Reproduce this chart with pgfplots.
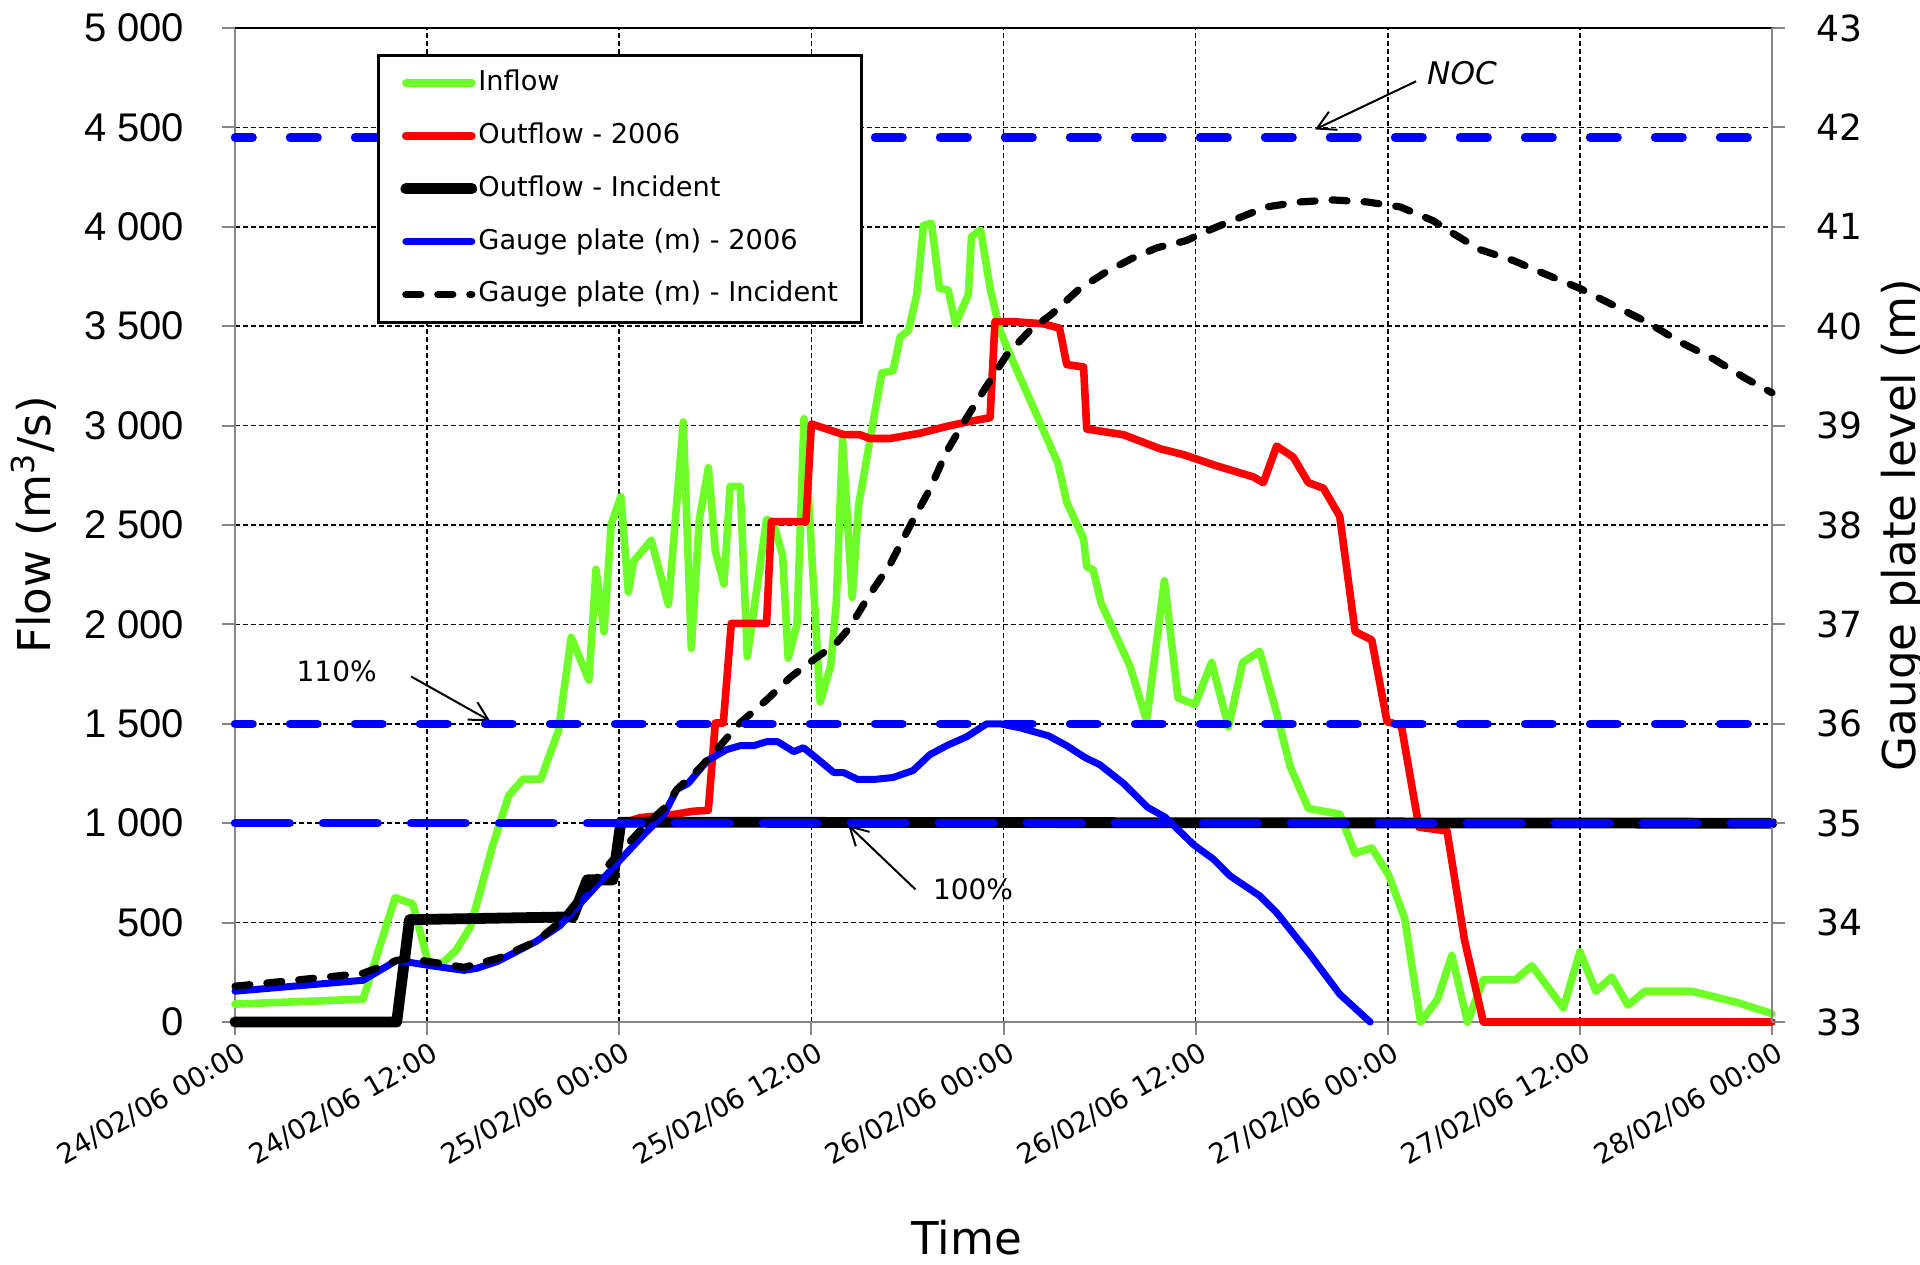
\documentclass[border=0pt]{standalone}
\usepackage{pgfplots}
\pgfplotsset{compat=1.18}
\usepackage{fontspec}
\setmainfont{DejaVu Sans}
\newfontfamily\arialf{Liberation Sans}
\usetikzlibrary{arrows.meta}

\definecolor{ingreen}{RGB}{110,255,40}
\definecolor{axgray}{RGB}{134,134,134}

\tikzset{
 sInflow/.style={color=ingreen, line width=1.9pt, line cap=round, line join=round},
 sOut06/.style={color=red, line width=1.9pt, line cap=round, line join=round},
 sOutInc/.style={color=black, line width=2.7pt, line cap=round, line join=round},
 sG06/.style={color=blue, line width=1.75pt, line cap=round, line join=round},
 sGInc/.style={color=black, line width=1.8pt, line cap=round, line join=round, dash pattern=on 3.75pt off 4.25pt},
 sRefA/.style={color=blue, line width=2.1pt, line cap=round, dash pattern=on 6.9pt off 9.35pt, dash phase=2.5pt},
 sRefB/.style={color=blue, line width=2.1pt, line cap=round, dash pattern=on 13.65pt off 8.35pt},
 annarrow/.style={black, line width=0.5pt, -{Straight Barb[length=4.5pt, width=5pt]}},
}

\begin{document}
\begin{tikzpicture}
\begin{axis}[
 scale only axis, width=384.25pt, height=248.5pt,
 xmin=0, xmax=96, ymin=0, ymax=5000,
 clip=false,
 axis line style={draw=axgray, line width=0.5pt},
 tick style={draw=axgray, line width=0.5pt},
 major tick length=3.25pt,
 tick align=outside,
 xtick pos=lower, ytick pos=left,
 xtick={0,12,24,36,48,60,72,84,96},
 xticklabels={24/02/06 00:00, 24/02/06 12:00, 25/02/06 00:00, 25/02/06 12:00, 26/02/06 00:00, 26/02/06 12:00, 27/02/06 00:00, 27/02/06 12:00, 28/02/06 00:00},
 ytick={0,500,1000,1500,2000,2500,3000,3500,4000,4500,5000},
 yticklabels={0,500,1~000,1~500,2~000,2~500,3~000,3~500,4~000,4~500,5~000},
 xticklabel style={font=\fontsize{6.9}{8}\selectfont, rotate=30, anchor=north east, inner sep=0pt, yshift=-1.5pt},
 yticklabel style={font=\arialf\fontsize{10}{12}\selectfont, anchor=east, inner sep=0pt, xshift=-9.25pt},
 grid=major,
 major grid style={black, line width=0.4pt, dash pattern=on 1.2pt off 0.8pt},
 xlabel={Time}, ylabel={Flow (m\textsuperscript{3}/s)},
 label style={font=\fontsize{11.3}{13}\selectfont},
 xlabel style={at={(axis description cs:0,0)}, anchor=center, xshift=183pt, yshift=-54pt},
 ylabel style={at={([xshift=-56.25pt]axis description cs:0,0.5)}, anchor=north, inner sep=0pt},
]
\coordinate (bbsw) at (rel axis cs:0,0);
\coordinate (bbne) at (rel axis cs:1,1);
\draw[black, line width=0.5pt] (rel axis cs:0,1) -- (rel axis cs:1,1);

% Inflow
\addplot[sInflow] coordinates {
(0,90) (8.0,115) (10.0,625) (11.1,595) (12.1,290) (13.0,300) (13.8,360) (14.7,478) (16.1,889) (17.1,1140) (18.0,1222) (19.1,1222) (20.2,1465) (21.0,1935) (22.1,1720) (22.55,2277) (23.05,1963) (23.5,2506) (24.1,2642) (24.57,2162) (24.9,2318) (26.0,2423) (27.07,2099) (28.0,3018) (28.5,1880) (29.0,2527) (29.57,2788) (30.0,2370) (30.54,2203) (30.92,2694) (31.55,2694) (32.0,1838) (33.2,2527) (33.6,2517) (34.2,2350) (34.55,1830) (35.1,2000) (35.54,3035) (36.55,1610) (37.2,1790) (37.55,2100) (37.95,2930) (38.55,2135) (38.95,2600) (39.66,2928) (40.4,3265) (41.1,3276) (41.54,3445) (42.06,3478) (42.58,3658) (43.0,4006) (43.5,4018) (44.0,3692) (44.55,3681) (45.0,3512) (45.8,3658) (46.0,3950) (46.57,3984) (47.16,3692) (47.78,3478) (48.6,3321) (49.9,3085) (51.4,2810) (51.95,2614) (53.0,2431) (53.2,2289) (53.6,2275) (54.1,2106) (55.9,1790) (56.94,1515) (58.05,2220) (58.9,1630) (59.96,1597) (61.0,1809) (62.05,1484) (62.94,1809) (64.0,1865) (65.06,1555) (65.9,1286) (67.04,1074) (69.0,1046) (69.96,848) (71.0,876) (72.05,740) (73.05,523) (74.05,0) (75.1,113) (76.0,335) (76.98,0) (77.97,212) (79.96,212) (81.0,283) (82.97,71) (84.0,353) (85.0,155) (85.99,226) (87.0,85) (88.07,155) (90.98,155) (93.8,99) (96.0,42)
};
% Outflow 2006
\addplot[sOut06] coordinates {
(24.2,1000) (25.3,1028) (27.4,1044) (28.6,1060) (29.56,1065) (30.0,1504) (30.5,1504) (31.0,2005) (33.2,2005) (33.5,2517) (35.66,2517) (36.0,3008) (36.5,2995) (37.99,2955) (39.0,2955) (39.66,2935) (40.9,2935) (42.8,2962) (44.4,2995) (45.7,3018) (47.16,3040) (47.47,3523) (48.6,3523) (50.5,3512) (51.5,3490) (51.95,3307) (53.0,3295) (53.2,2983) (55.5,2954) (57.8,2883) (59.2,2855) (61.3,2798) (63.6,2742) (64.23,2713) (65.06,2897) (66.1,2841) (67.04,2713) (67.98,2685) (69.0,2544) (69.96,1964) (71.0,1922) (71.95,1512) (72.85,1490) (73.95,980) (75.7,961) (76.8,410) (77.97,0) (96,0)
};
% Outflow incident
\addplot[sOutInc] coordinates {
(0,0) (10.1,0) (10.9,515) (20.4,528) (21.1,528) (22.0,715) (23.6,715) (24.1,1005) (96,1000)
};

\draw[annarrow] (axis cs:73.77,4732) -- (axis cs:67.46,4490);
\node[font=\itshape\fontsize{7.8}{9}\selectfont] at (axis cs:76.64,4774) {NOC};
\draw[annarrow] (axis cs:11.0,1738) -- (axis cs:15.93,1515);
\node[font=\fontsize{7}{8}\selectfont] at (axis cs:6.35,1766) {110\%};
\draw[annarrow] (axis cs:42.5,667) -- (axis cs:38.3,990);
\node[font=\fontsize{7}{8}\selectfont] at (axis cs:46.1,667) {100\%};
\end{axis}

\begin{axis}[
 scale only axis, width=384.25pt, height=248.5pt,
 xmin=0, xmax=96, ymin=33, ymax=43,
 clip=false,
 axis x line=none,
 axis y line*=right,
 axis line style={draw=axgray, line width=0.5pt, -},
 tick style={draw=axgray, line width=0.5pt},
 major tick length=3.25pt, tick align=outside,
 ytick={33,34,35,36,37,38,39,40,41,42,43},
 yticklabels={33,34,35,36,37,38,39,40,41,42,43},
 yticklabel style={font=\fontsize{9}{11}\selectfont, anchor=west, inner sep=0pt, xshift=7.75pt},
 ylabel={Gauge plate level (m)},
 ylabel style={font=\fontsize{11.3}{13}\selectfont, at={([xshift=27pt]axis description cs:1,0.5)}, anchor=north, inner sep=0pt},
 legend style={at={(axis description cs:0.0924,0.9738)}, anchor=north west, draw=black, line width=0.7pt, fill=white,
   font=\fontsize{6.8}{8}\selectfont, inner xsep=5.5pt, inner ysep=2.5pt, row sep=4.3pt,
   nodes={inner xsep=0.3pt, inner ysep=1pt, text height=5.3pt, text depth=1.6pt}},
 legend cell align=left,
 legend image code/.code={\draw[#1] (0pt,0pt) -- (16.5pt,0pt);},
]
\addlegendimage{sInflow}
\addlegendentry{Inflow}
\addlegendimage{sOut06}
\addlegendentry{Outflow - 2006}
\addlegendimage{sOutInc}
\addlegendentry{Outflow - Incident}
\addplot[sG06] coordinates {
(0,33.31) (8.0,33.42) (10.1,33.62) (10.9,33.60) (12.5,33.56) (14.3,33.52) (15.1,33.54) (16.4,33.61) (18.8,33.81) (20.3,33.97) (22.4,34.34) (24.05,34.63) (25.5,34.88) (26.8,35.09) (27.6,35.34) (28.3,35.40) (29.5,35.63) (30.7,35.74) (31.55,35.78) (32.4,35.78) (33.2,35.82) (33.9,35.82) (34.9,35.72) (35.5,35.76) (36.13,35.68) (37.4,35.51) (38.0,35.51) (38.9,35.44) (39.9,35.44) (41.1,35.46) (42.35,35.53) (43.4,35.69) (44.45,35.78) (45.7,35.87) (46.95,36.00) (47.78,36.00) (49.03,35.96) (50.8,35.88) (51.95,35.78) (53.1,35.66) (54.0,35.59) (55.5,35.40) (57.0,35.16) (58.1,35.06) (59.9,34.78) (61.1,34.64) (62.15,34.47) (64.0,34.27) (65.06,34.10) (67.14,33.68) (69.0,33.28) (70.9,33.0)
};
\addlegendentry{Gauge plate (m) - 2006}
\addplot[sGInc] coordinates {
(0,33.36) (8.0,33.49) (10.1,33.62) (10.9,33.64) (14.3,33.55) (16.4,33.64) (18.8,33.81) (20.4,34.02) (22.2,34.38) (24.05,34.71) (25.5,34.96) (26.8,35.15) (27.6,35.34) (29.0,35.55) (30.3,35.78) (31.55,36.01) (33.2,36.24) (34.7,36.47) (36.1,36.64) (37.5,36.80) (38.4,36.97) (39.6,37.29) (40.9,37.60) (42.35,38.05) (43.4,38.36) (44.45,38.74) (45.7,39.08) (46.95,39.40) (48.2,39.71) (49.66,39.96) (51.0,40.12) (52.7,40.37) (54.35,40.54) (56.0,40.68) (57.6,40.79) (59.4,40.86) (60.9,40.97) (62.56,41.08) (64.43,41.20) (66.5,41.25) (68.6,41.27) (70.7,41.25) (72.77,41.20) (74.85,41.06) (75.9,40.95) (77.77,40.77) (79.85,40.66) (81.9,40.52) (84.0,40.38) (86.1,40.21) (88.2,40.04) (90.27,39.84) (92.35,39.67) (94.4,39.47) (96.0,39.33)
};
\addlegendentry{Gauge plate (m) - Incident}
% reference levels
\addplot[sRefA, forget plot] coordinates {(0,41.9) (96,41.9)};
\addplot[sRefA, forget plot] coordinates {(0,36) (96,36)};
\addplot[sRefB, forget plot] coordinates {(0,35) (96,35)};
\end{axis}
\pgfresetboundingbox
\path[use as bounding box] ([shift={(-58.75pt,-60.5pt)}]bbsw) rectangle ([shift={(37pt,7pt)}]bbne);
\end{tikzpicture}
\end{document}
